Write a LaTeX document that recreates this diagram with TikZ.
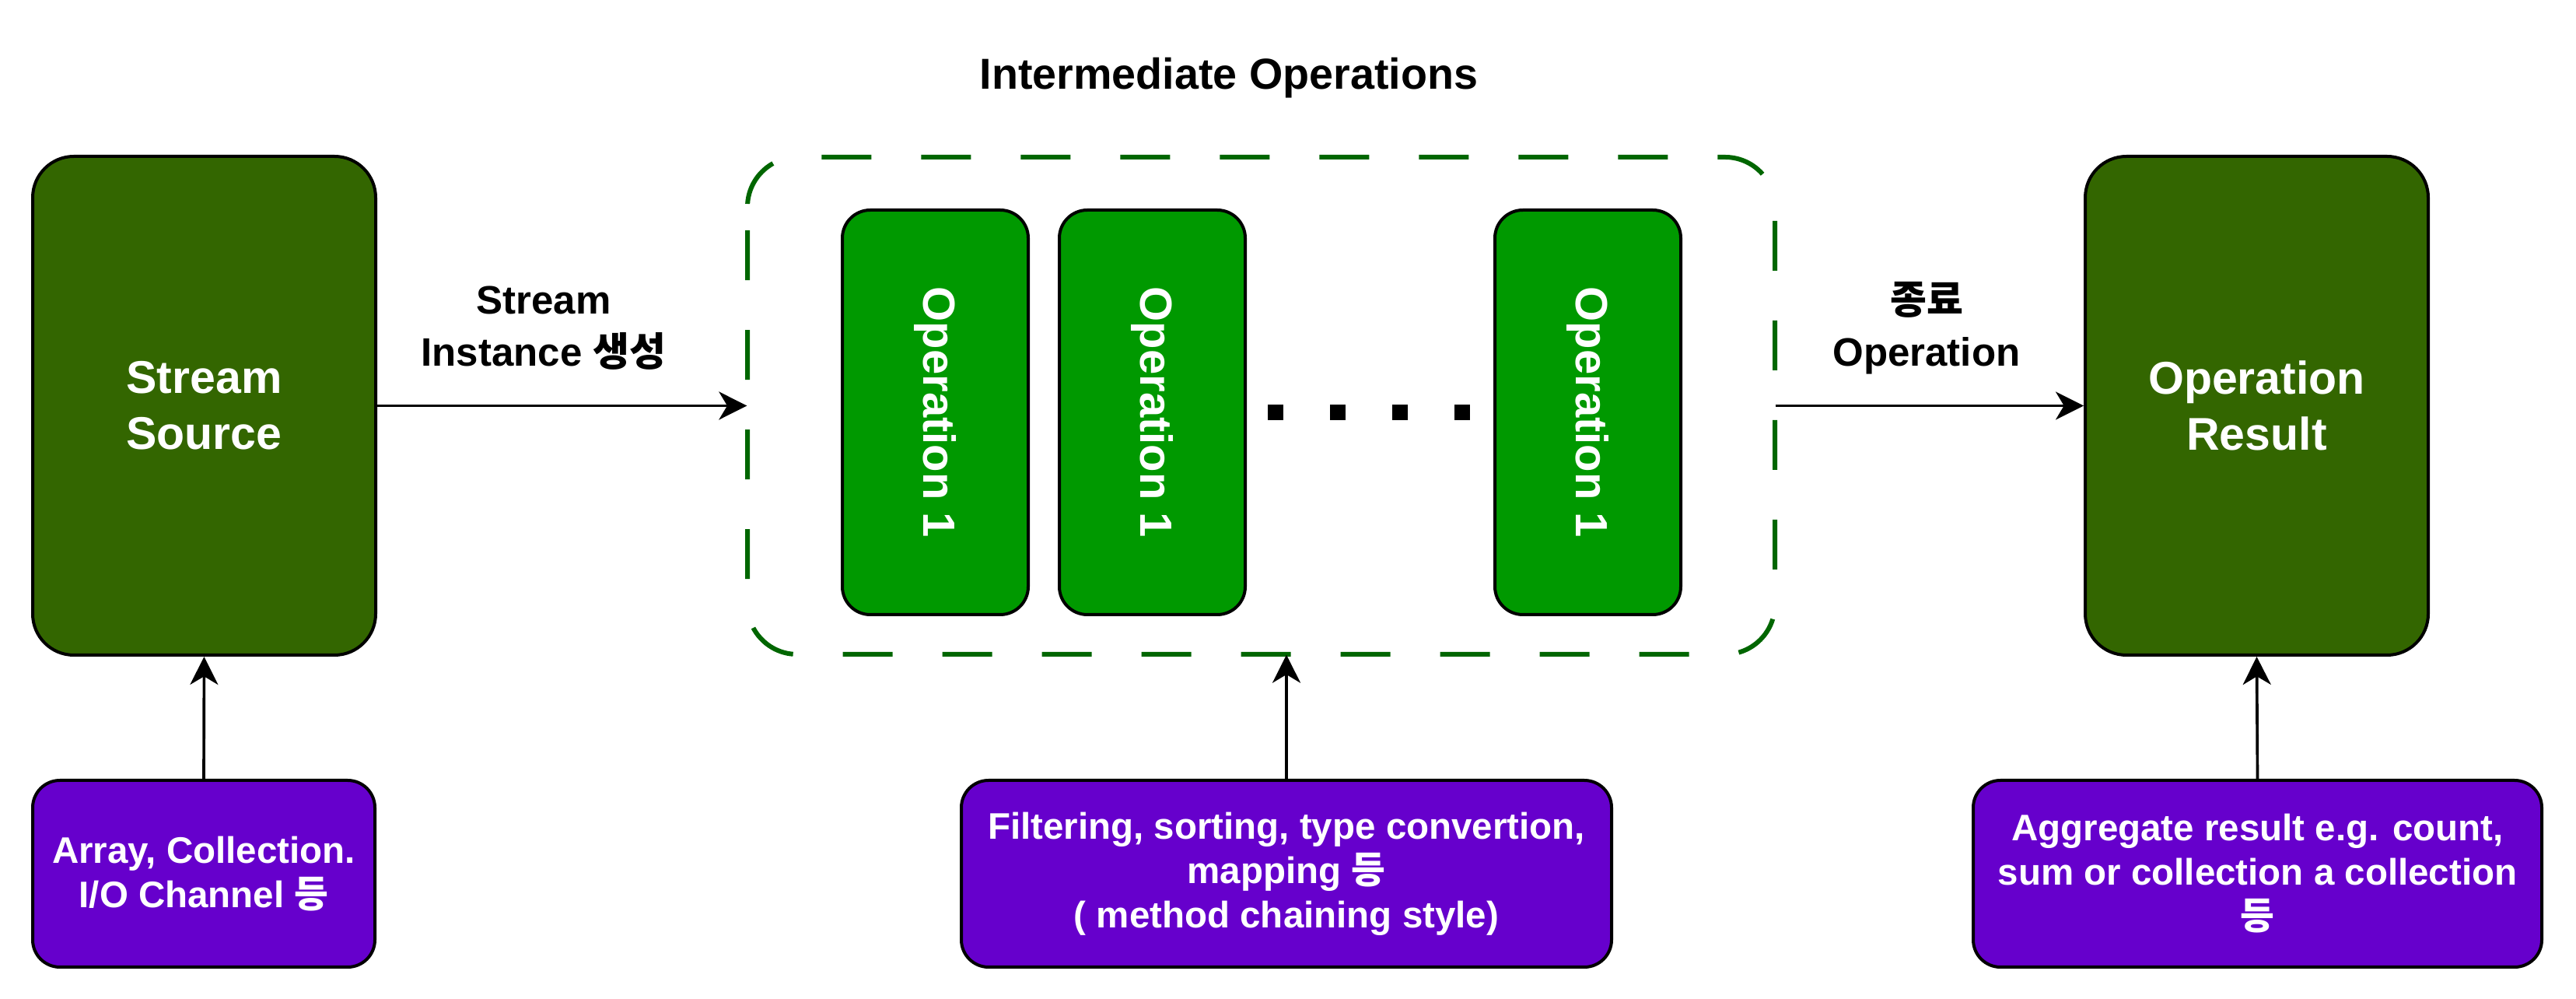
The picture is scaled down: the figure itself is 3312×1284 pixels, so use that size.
\documentclass[tikz,border=0pt]{standalone}
\usepackage{fontspec}
\setmainfont{Liberation Sans}
\newfontfamily\kr{Noto Sans CJK KR}
\usetikzlibrary{arrows.meta,calc}
\definecolor{srcgreen}{HTML}{336600}
\definecolor{opgreen}{HTML}{009900}
\definecolor{dashgreen}{HTML}{006600}
\definecolor{purp}{HTML}{6600CC}
\begin{document}
\begin{tikzpicture}[x=0.3pt,y=-0.3pt,
  bigbox/.style={draw=black, line width=1.2pt, fill=srcgreen, rounded corners=15.9pt,
    minimum width=132.3pt, minimum height=192.3pt, inner sep=0pt, text=white, align=center,
    font=\fontsize{17.7pt}{21.6pt}\selectfont\bfseries},
  opbox/.style={draw=black, line width=1.2pt, fill=opgreen, rounded corners=10.8pt,
    minimum width=156pt, minimum height=71.7pt, inner sep=0pt, rotate=-90, text=white,
    font=\fontsize{17.4pt}{21pt}\selectfont\bfseries},
  groupbox/.style={minimum width=396.3pt, minimum height=191.7pt, inner sep=0pt},
  groupline/.style={draw=dashgreen, line width=1.8pt, dash pattern=on 19.2pt off 19.2pt,
    dash phase=28.2pt, rounded corners=19.2pt},
  infobox/.style={draw=black, line width=1.2pt, fill=purp, rounded corners=10.5pt,
    minimum height=72pt, inner sep=0pt, text=white, align=center,
    font=\fontsize{14.25pt}{17.1pt}\selectfont\bfseries},
  lbl/.style={align=center, inner sep=0pt, font=\fontsize{15.3pt}{20.1pt}\selectfont\bfseries},
  ttl/.style={inner sep=0pt, font=\fontsize{16.7pt}{20pt}\selectfont\bfseries},
  conn/.style={line width=1.1pt, -{Stealth[length=10.8pt,width=10.8pt,inset=3.2pt]}}
]
\useasboundingbox (0,0) rectangle (3312,1284);

% main boxes
\node[bigbox] (src) at (262.5,521.5) {Stream\\Source};
\node[bigbox] (res) at (2901.5,521.5) {Operation\\Result};
\node[groupbox] (grp) at (1621.5,521.5) {};
\draw[groupline] (961,300) -- (961,202) -- (2282,202) -- (2282,841) -- (961,841) -- cycle;
\node[ttl] (title) at (1580,100) {Intermediate Operations};

% operations
\node[opbox] (op1) at (1202.5,530) {Operation 1};
\node[opbox] (op2) at (1481.5,530) {Operation 1};
\node[opbox] (op3) at (2041.5,530) {Operation 1};

% dots
\foreach \cx in {1640,1720,1800,1880}
  \fill[black] (\cx-10,520) rectangle (\cx+10,540);

% info boxes
\node[infobox, minimum width=132pt] (in1) at (262,1123)
  {Array, Collection.\\I/O Channel {\kr 등}};
\node[infobox, minimum width=250.8pt] (in2) at (1654,1123)
  {Filtering, sorting, type convertion,\\mapping {\kr 등}\\( method chaining style)};
\node[infobox, minimum width=219.3pt] (in3) at (2902.5,1123)
  {Aggregate result e.g. count,\\sum or collection a collection\\{\kr 등}};

% connectors
\draw[conn] (src.east) -- (grp.west);
\draw[conn] (grp.east) -- (res.west);
\draw[conn] (in1.north) -- (src.south);
\draw[conn] (in2.north) -- (in2.north |- grp.south);
\draw[conn] (in3.north) -- (res.south);

% labels
\node[lbl] (l1) at (699,422) {Stream\\Instance {\kr 생성}};
\node[lbl] (l2) at (2477,422) {{\kr 종료}\\Operation};
\end{tikzpicture}
\end{document}
